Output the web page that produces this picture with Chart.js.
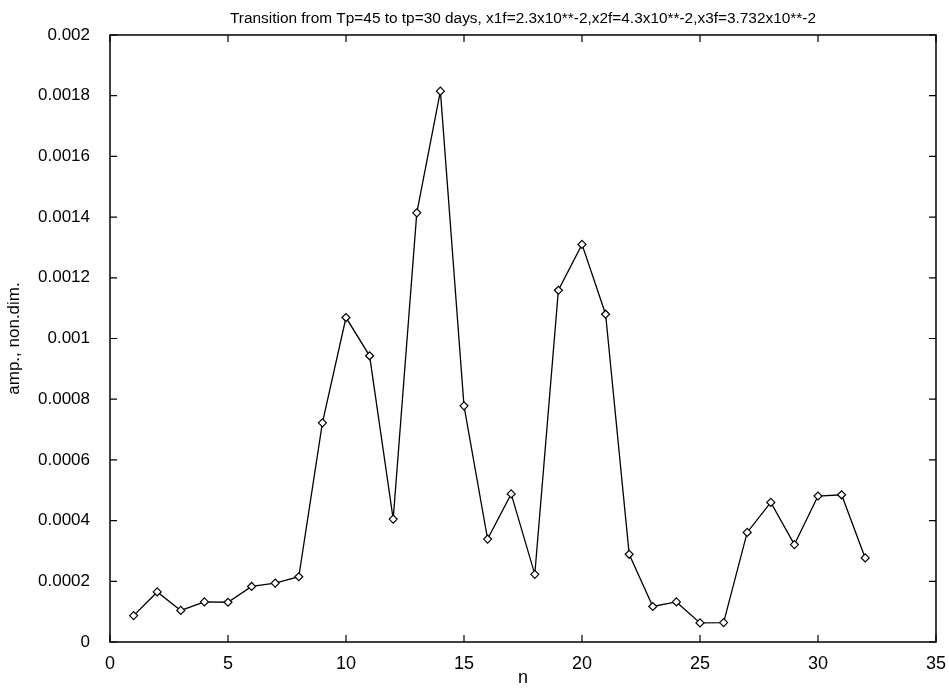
<!DOCTYPE html>
<html>
<head>
<meta charset="utf-8">
<script src="https://cdn.jsdelivr.net/npm/chart.js@4"></script>
<style>
  html, body { margin: 0; padding: 0; background: #fff; }
  #wrap { width: 949px; height: 689px; }
</style>
</head>
<body>
<div id="wrap"><canvas id="c" width="949" height="689"></canvas></div>
<script>
const titleText = "Transition from Tp=45 to tp=30 days, x1f=2.3x10**-2,x2f=4.3x10**-2,x3f=3.732x10**-2";
const xLabel = "n";
const yLabel = "amp., non.dim.";
const nValues = [1,2,3,4,5,6,7,8,9,10,11,12,13,14,15,16,17,18,19,20,21,22,23,24,25,26,27,28,29,30,31,32];
const ampValues = [0.000087,0.000165,0.000104,0.000132,0.000131,0.000183,0.000194,0.000215,
                   0.000722,0.001069,0.000943,0.000405,0.001414,0.001815,0.000778,0.000339,
                   0.000488,0.000223,0.001159,0.00131,0.00108,0.000289,0.000117,0.000132,
                   0.000063,0.000064,0.000361,0.00046,0.000321,0.000481,0.000485,0.000277];
const xTicks = [0,5,10,15,20,25,30,35];
const yTicks = [0,0.0002,0.0004,0.0006,0.0008,0.001,0.0012,0.0014,0.0016,0.0018,0.002];

const points = nValues.map((n, i) => ({ x: n, y: ampValues[i] }));
const FONT = "'Liberation Sans', Arial, sans-serif";

const frameTicks = {
  id: 'frameTicks',
  afterDatasetsDraw(chart) {
    const { ctx, chartArea: a, scales } = chart;
    ctx.save();
    ctx.strokeStyle = '#000';
    ctx.lineWidth = 1.5;
    ctx.strokeRect(a.left, a.top, a.right - a.left, a.bottom - a.top);
    ctx.lineWidth = 1.2;
    const L = 7;
    ctx.beginPath();
    xTicks.forEach(v => {
      const px = scales.x.getPixelForValue(v);
      ctx.moveTo(px, a.bottom); ctx.lineTo(px, a.bottom - L);
      ctx.moveTo(px, a.top); ctx.lineTo(px, a.top + L);
    });
    yTicks.forEach(v => {
      const py = scales.y.getPixelForValue(v);
      ctx.moveTo(a.left, py); ctx.lineTo(a.left + L, py);
      ctx.moveTo(a.right, py); ctx.lineTo(a.right - L, py);
    });
    ctx.stroke();
    ctx.restore();
  }
};

new Chart(document.getElementById('c'), {
  type: 'scatter',
  data: {
    datasets: [{
      data: points,
      showLine: true,
      borderColor: '#000',
      borderWidth: 1.3,
      pointStyle: 'rectRot',
      pointRadius: 4,
      pointBorderWidth: 1.2,
      pointBorderColor: '#000',
      pointBackgroundColor: '#fff',
      tension: 0
    }]
  },
  options: {
    responsive: false,
    animation: false,
    layout: { padding: { left: 0, right: 12, top: 0, bottom: 0 } },
    plugins: {
      legend: { display: false },
      tooltip: { enabled: false },
      title: {
        display: true,
        text: titleText,
        fullSize: false,
        color: '#000',
        font: { family: FONT, size: 15.4, weight: 'normal' },
        padding: { top: 10, bottom: 6.5 }
      }
    },
    scales: {
      x: {
        type: 'linear',
        min: 0, max: 35,
        afterBuildTicks: s => { s.ticks = xTicks.map(v => ({ value: v })); },
        afterFit: s => { s.height = 47; },
        grid: { display: false },
        border: { display: false },
        ticks: {
          color: '#000',
          padding: 3,
          maxRotation: 0,
          font: { family: FONT, size: 18 },
          callback: v => String(v)
        },
        title: {
          display: true, text: xLabel, color: '#000',
          font: { family: FONT, size: 18 },
          padding: { top: 6, bottom: 0 }
        }
      },
      y: {
        type: 'linear',
        min: 0, max: 0.002,
        afterBuildTicks: s => { s.ticks = yTicks.map(v => ({ value: v })); },
        afterFit: s => { s.width = 110; },
        grid: { display: false },
        border: { display: false },
        ticks: {
          color: '#000',
          padding: 12,
          font: { family: FONT, size: 17 },
          callback: v => String(Number(Number(v).toFixed(4)))
        },
        title: {
          display: true, text: yLabel, color: '#000',
          font: { family: FONT, size: 17 },
          padding: { top: 4, bottom: 0 }
        }
      }
    }
  },
  plugins: [frameTicks]
});
</script>
</body>
</html>
